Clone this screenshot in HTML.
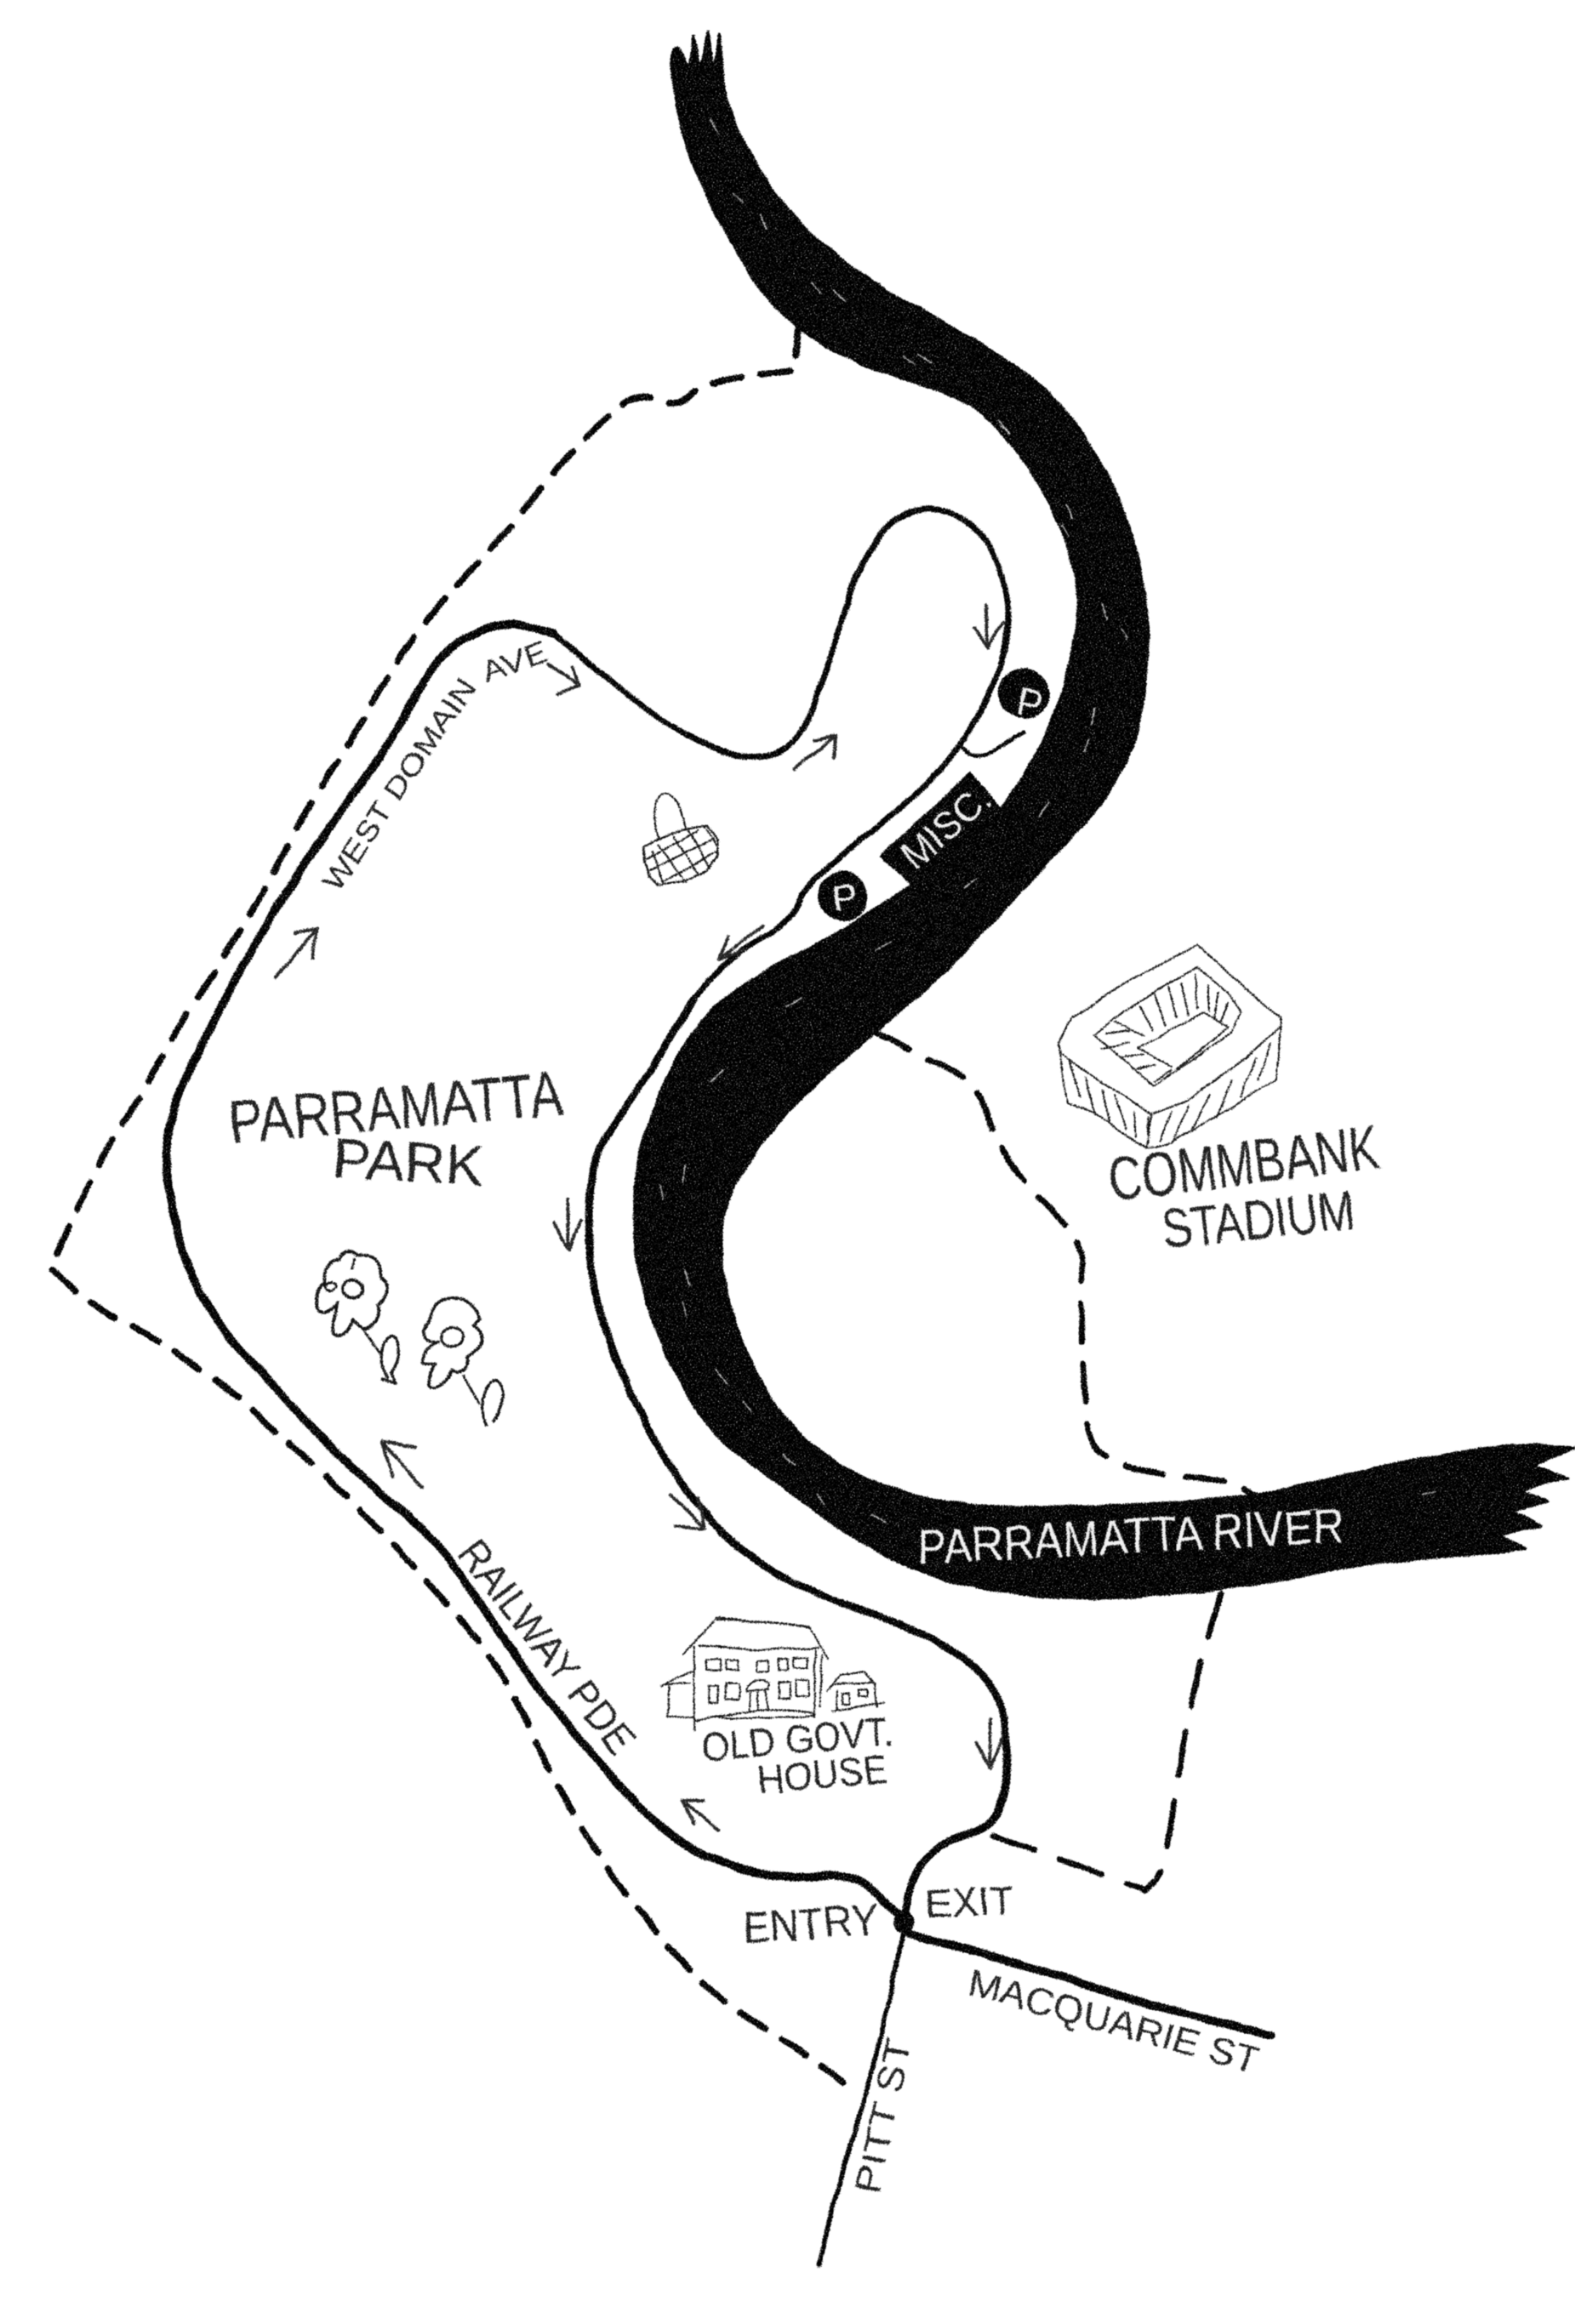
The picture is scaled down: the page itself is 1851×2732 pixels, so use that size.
<!DOCTYPE html>
<html><head><meta charset="utf-8"><title>Parramatta Park map</title>
<style>
html,body{margin:0;padding:0;background:#fff}
svg{display:block}
text{font-family:"Liberation Sans",sans-serif;fill:#1c1c1c}
.w{fill:#eee}
.l{fill:none;stroke:#000;stroke-linecap:round;stroke-linejoin:round}
.a{fill:none;stroke:#222;stroke-width:2.2;stroke-linecap:round;stroke-linejoin:round}
.s{fill:none;stroke:#111;stroke-width:6;stroke-linecap:round;stroke-linejoin:round}
</style></head><body>
<svg xmlns="http://www.w3.org/2000/svg" width="1851" height="2732" viewBox="0 0 1851 2732">
<defs>
<filter id="r" x="0" y="0" width="1851" height="2732" filterUnits="userSpaceOnUse" primitiveUnits="userSpaceOnUse" color-interpolation-filters="sRGB">
<feTurbulence type="fractalNoise" baseFrequency="0.03" numOctaves="2" seed="4" result="n"/>
<feDisplacementMap in="SourceGraphic" in2="n" scale="5" xChannelSelector="R" yChannelSelector="G" result="d"/>
<feTurbulence type="fractalNoise" baseFrequency="0.7" numOctaves="2" seed="9" result="g"/>
<feDisplacementMap in="d" in2="g" scale="4" xChannelSelector="R" yChannelSelector="G" result="e"/>
<feColorMatrix in="g" type="matrix" values="0 0 0 0 0  0 0 0 0 0  0 0 0 0 0  7 0 0 0 -4.5" result="sp"/>
<feComposite in="e" in2="sp" operator="out" result="c"/>
<feGaussianBlur in="c" stdDeviation="0.6"/>
</filter>
</defs>
<rect width="1851" height="2732" fill="#fff"/>
<g filter="url(#r)">
<g transform="scale(1.7413)">
<!-- river -->
<polygon id="river" fill="#000" stroke="#000" stroke-width="2" stroke-linejoin="round" points="453,35 456,70 468,115 492,160 512,195 536,220 576,245 630,262 661,275 692,310 712,345 725,380 729,415 722,450 708,495 678,545 651,575 603,605 563,632 515,655 475,685 453,720 441,750 430,780 428,814 428,844 437,884 454,924 481,969 522,999 576,1039 630,1066 698,1079 766,1079 854,1069 915,1056 985,1050 1030,1046 1030,1046 1012,1036 1012,1036 1040,1030 1040,1030 1020,1020 1020,1020 1045,1014 1045,1014 1026,1006 1026,1006 1058,998 1058,998 1034,990 1034,990 1062,978 1062,978 1024,974 949,986 847,1011 766,1016 664,1019 590,1004 536,969 505,919 488,869 485,819 505,784 535,745 593,695 644,650 671,620 705,585 746,540 766,505 773,465 776,425 769,375 749,320 712,265 651,225 590,192 542,155 508,110 488,65 486,24 486,24 481,50 478,22 478,22 473,50 468,24 468,24 465,50 458,30"/>
<!-- river scratches -->
<path d="M480,80 L520,160 L590,220 L660,265 L720,340 L748,420 L735,500 L690,570 L610,630 L530,680 L470,740 L455,830 L480,920 L530,985 L600,1030" fill="none" stroke="#fff" stroke-width="1" stroke-dasharray="12 60" opacity=".7"/>
<path d="M495,130 L560,205 L680,290 L760,430 L720,540 M445,800 L465,900 L560,1020 M880,1020 L1020,1000" fill="none" stroke="#fff" stroke-width="1" stroke-dasharray="10 70" opacity=".6"/>
<!-- roads -->
<polyline class="l" stroke-width="5.5" points="610,1296 597,1284 576,1264 522,1269 468,1251 434,1224 400,1184 366,1144 332,1094 298,1044 264,1014 224,979 183,934 142,889 122,844 114,804 112,780 115,750 146,685 176,630 217,565 258,510 285,460 305,435 327,424 346,420 373,428"/>
<polyline class="l" stroke-width="4" points="373,428 407,455 447,488 488,508 510,512 525,510 542,495 559,450 576,390 597,355 624,340 658,353 675,380 681,415 678,440 668,470 644,510 610,545 576,570 542,600 536,620 488,650 468,675"/>
<polyline class="l" stroke-width="5" points="468,675 441,720 414,760 400,783 397,824 400,874 420,929 447,984 488,1039 542,1074 624,1101 671,1134 681,1174 678,1214 668,1234 630,1246 614,1271 610,1299"/>
<polyline class="l" stroke-width="5.5" points="614,1306 692,1326 766,1351 858,1374"/>
<polyline class="l" stroke-width="3.2" points="610,1304 600,1354 583,1419 563,1484 553,1529"/>
<circle cx="610" cy="1298" r="7" fill="#000"/>
<polyline class="l" stroke-width="2.6" points="691,494 676,505 658,511 650,505"/>
<!-- dashed -->
<polyline class="l" stroke-width="4.4" stroke-dasharray="20 13" points="539,220 536,250 536,250 475,258 458,275 431,265 414,278 390,300 369,325 332,370 312,390 271,440 251,475 234,505 217,530 197,565 180,600 163,625 146,655 119,695 95,740 78,765 68,783 51,819 34,856 34,856 68,886 102,901 163,944 190,971 210,986 237,1014 268,1044 298,1079 329,1114 349,1149 380,1214 400,1246 420,1276 447,1309 475,1341 502,1361 536,1381 569,1406"/>
<polyline class="l" stroke-width="4" stroke-dasharray="26 15" points="590,697 627,715 661,732 671,770 692,799 732,839 729,874 732,944 736,979 766,994 827,999 847,1009"/>
<polyline class="l" stroke-width="4" stroke-dasharray="30 18" points="824,1076 807,1134 797,1184 786,1264 773,1276 773,1276 719,1256 668,1239"/>
<!-- arrows -->
<path class="a" d="M665,408 L667,437 M658,424 L667,437 L677,420"/>
<path class="a" d="M370,448 L391,462 M377,469 L391,462 L386,450"/>
<path class="a" d="M536,519 L564,497 M549,500 L564,497 L562,511"/>
<path class="a" d="M515,625 L485,648 M491,632 L485,648 L502,642"/>
<path class="a" d="M186,660 L214,627 M199,630 L214,627 L211,647"/>
<path class="a" d="M383,809 L384,844 M374,826 L384,844 L392,824"/>
<path class="a" d="M453,1009 L475,1032 M455,1030 L475,1032 L471,1012"/>
<path class="a" d="M668,1161 L668,1194 M659,1176 L668,1194 L677,1174"/>
<path class="a" d="M485,1236 L461,1216 M475,1216 L461,1216 L468,1232"/>
<path class="a" d="M285,1004 L258,973 M280,977 L258,973 L265,997"/>
<!-- misc box and parking -->
<polygon fill="#000" points="593,578 655,521 680,550 619,601"/>
<circle cx="569" cy="605" r="17" fill="#000"/>
<circle cx="691" cy="468" r="17" fill="#000"/>
<text class="w" transform="translate(618,588) rotate(-41)" font-size="27" textLength="70" lengthAdjust="spacingAndGlyphs">MISC.</text>
<text class="w" transform="translate(563,616) rotate(-8)" font-size="26">P</text>
<text class="w" transform="translate(685,482) rotate(12)" font-size="28" textLength="16" lengthAdjust="spacingAndGlyphs">P</text>
<!-- labels -->
<text transform="translate(156,772) rotate(-5)" font-size="42" textLength="226" lengthAdjust="spacingAndGlyphs">PARRAMATTA</text>
<text transform="translate(224,795) rotate(3)" font-size="38" textLength="102" lengthAdjust="spacingAndGlyphs">PARK</text>
<text transform="translate(750,811) rotate(-7)" font-size="42" textLength="184" lengthAdjust="spacingAndGlyphs">COMMBANK</text>
<text transform="translate(786,843) rotate(-6)" font-size="38" textLength="130" lengthAdjust="spacingAndGlyphs">STADIUM</text>
<text transform="translate(228,603) rotate(-56)" font-size="20" textLength="168" lengthAdjust="spacingAndGlyphs">WEST DOMAIN</text>
<text transform="translate(328,461) rotate(-20)" font-size="20" textLength="46" lengthAdjust="spacingAndGlyphs">AVE</text>
<text transform="translate(308,1049) rotate(52)" font-size="28" textLength="174" lengthAdjust="spacingAndGlyphs">RAILWAY PDE</text>
<text transform="translate(474,1189) rotate(-5)" font-size="27" textLength="130" lengthAdjust="spacingAndGlyphs">OLD GOVT.</text>
<text transform="translate(512,1211) rotate(-5)" font-size="27" textLength="88" lengthAdjust="spacingAndGlyphs">HOUSE</text>
<text transform="translate(502,1312) rotate(-4)" font-size="30" textLength="92" lengthAdjust="spacingAndGlyphs">ENTRY</text>
<text transform="translate(625,1295) rotate(-3)" font-size="27" textLength="60" lengthAdjust="spacingAndGlyphs">EXIT</text>
<text transform="translate(652,1346) rotate(15.5)" font-size="25" textLength="202" lengthAdjust="spacingAndGlyphs">MACQUARIE ST</text>
<text transform="translate(593,1482) rotate(-78)" font-size="24" textLength="106" lengthAdjust="spacingAndGlyphs">PITT ST</text>
<text class="w" transform="translate(620,1056) rotate(-3)" font-size="33" textLength="288" lengthAdjust="spacingAndGlyphs" style="fill:#f2f2f2">PARRAMATTA RIVER</text>
</g>

<!-- stadium -->
<g transform="translate(1180,1080) scale(.3333)">
<polygon class="s" points="190,440 240,350 400,240 680,95 770,170 850,245 975,350 975,380 850,490 650,640 520,690 400,610 270,530 195,470"/>
<polygon class="s" points="320,410 390,350 560,240 680,170 790,260 835,330 800,400 530,590 480,550"/>
<polyline class="s" points="470,455 700,335 790,380 610,530"/>
<path class="s" d="M470,455 L590,525 M190,440 L220,650 L310,680 L500,810 L520,690 M500,810 L590,790 L960,570 L975,380 M230,500 L270,630 M285,560 L320,690 M345,600 L370,715 M390,620 L430,740 M460,680 L465,770 M510,700 L505,790 M590,680 L550,780 M650,660 L600,780 M725,620 L665,740 M805,570 L750,700 M885,490 L835,630 M940,440 L895,570 M360,405 L440,395 M345,460 L440,435 M420,490 L490,480 M470,530 L530,515 M530,575 L590,535 M390,365 L490,410 M480,310 L520,390 M530,270 L570,380 M580,240 L610,350 M625,225 L650,340 M675,195 L680,320 M720,235 L720,330 M755,260 L740,350 M790,300 L765,360"/>
</g>

<!-- basket -->
<g transform="translate(720,780) scale(.357,.333)">
<polygon class="s" style="stroke-width:7" points="105,650 150,620 230,585 310,575 345,625 345,680 310,730 230,770 150,785 120,750 105,700"/>
<path class="s" style="stroke-width:6" d="M155,620 C125,550 135,462 178,462 C210,462 230,530 240,578 M110,690 L280,590 M120,730 L330,620 M170,770 L345,660 M150,640 L240,770 M200,610 L280,740 M250,590 L320,720 M300,578 L340,640 M130,665 L165,775"/>
</g>

<!-- flowers -->
<g transform="translate(340,1440) scale(.3333)">
<path class="s" style="stroke-width:11" d="M175,120 C190,80 220,90 240,108 C290,105 320,130 320,185 C355,205 350,245 310,280 C320,320 300,360 262,370 L225,335 C210,380 175,400 155,385 C145,350 160,310 170,272 C140,310 95,320 95,285 C90,245 110,215 125,205 C120,170 130,125 175,120 Z"/>
<ellipse class="s" style="stroke-width:11" cx="226" cy="226" rx="34" ry="34"/>
<path class="s" style="stroke-width:8" d="M125,215 C145,195 170,205 165,220 C150,235 130,235 125,215 M228,120 L222,155 M262,372 L320,450"/>
<path class="s" style="stroke-width:10" d="M345,540 C310,470 330,400 362,390 C395,400 395,470 360,525 L375,560 L325,545"/>
<path class="s" style="stroke-width:11" d="M530,270 C580,235 660,280 670,330 L650,355 C690,380 700,430 625,465 C640,490 610,530 575,510 C560,550 520,585 495,570 C490,540 505,510 520,495 L470,490 C465,450 490,425 525,410 C470,420 460,380 490,345 C500,310 515,285 530,270 Z"/>
<ellipse class="s" style="stroke-width:9" cx="574" cy="395" rx="38" ry="33"/>
<path class="s" style="stroke-width:8" d="M615,530 L670,630"/>
<path class="s" style="stroke-width:10" d="M695,705 C665,640 690,560 725,548 C760,560 760,640 720,690"/>
</g>

<!-- house -->
<g transform="translate(720,1880) scale(.3333)">
<path class="s" d="M250,195 L365,65 L690,95 L760,210 M365,72 C470,75 600,85 695,100 M305,160 C420,180 600,180 725,170 M290,165 L285,460 M715,180 L710,415 M738,195 L730,380 M285,430 L360,415 C480,390 600,380 700,400 L715,410 C640,420 500,420 360,415 M170,305 L280,255 M185,300 L275,298 M200,305 L195,415 L285,415 M755,320 L800,270 L890,255 L925,300 L930,380 M780,300 L920,295 M790,320 L790,390 M775,395 L955,365"/>
<path class="s" style="stroke-width:6" d="M330,215 h50 v35 h-50 z M400,215 h45 v35 h-45 z M510,215 h40 v40 h-40 z M585,210 h35 v40 h-35 z M640,205 h50 v35 h-50 z M340,305 h30 v60 h-30 z M395,300 h50 v55 h-50 z M585,295 h40 v55 h-40 z M645,285 h45 v60 h-45 z M470,320 C490,280 530,280 550,300 L545,320 L470,325 M485,330 L485,390 M510,330 L515,390 M535,320 L550,390 M810,330 h25 v40 h-25 z M870,320 h30 v25 h-30 z"/>
</g>
</g>
</svg>
<script>
(function(){
var NS="http://www.w3.org/2000/svg";
function pts(e){return e.getAttribute("points").trim().split(/\s+/).map(function(s){return s.split(",").map(Number)})}
function mid(a,b){return ((a[0]+b[0])/2).toFixed(1)+","+((a[1]+b[1])/2).toFixed(1)}
function swap(e,d){var p=document.createElementNS(NS,"path");for(var i=0;i<e.attributes.length;i++){var a=e.attributes[i];if(a.name!="points")p.setAttribute(a.name,a.value)}p.setAttribute("d",d);e.parentNode.replaceChild(p,e)}
document.querySelectorAll("polyline.l").forEach(function(e){var P=pts(e),d="M"+P[0].join(",");for(var i=1;i<P.length-1;i++)d+=" Q"+P[i].join(",")+" "+mid(P[i],P[i+1]);d+=" L"+P[P.length-1].join(",");swap(e,d)});
var r=document.getElementById("river");if(r){var P=pts(r),n=P.length,d="M"+mid(P[n-1],P[0]);for(var i=0;i<n;i++)d+=" Q"+P[i].join(",")+" "+mid(P[i],P[(i+1)%n]);swap(r,d+"Z")}
})();
</script>
</body></html>
